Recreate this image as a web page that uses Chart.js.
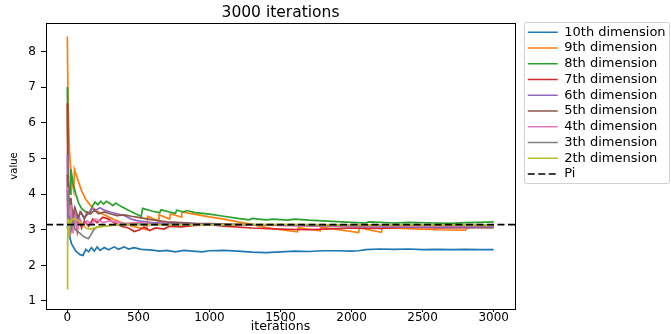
<!DOCTYPE html>
<html><head><meta charset="utf-8">
<script src="https://cdn.jsdelivr.net/npm/chart.js@4/dist/chart.umd.min.js"></script>
<style>html,body{margin:0;padding:0;background:#fff;overflow:hidden}canvas{display:block}</style>
</head><body>
<canvas id="c" width="671" height="334"></canvas>
<script>
const seriesNames = ['10th dimension','9th dimension','8th dimension','7th dimension','6th dimension','5th dimension','4th dimension','3th dimension','2th dimension'];
const seriesColors = ['#1f77b4','#ff7f0e','#2ca02c','#d62728','#9467bd','#8c564b','#e377c2','#7f7f7f','#bcbd22'];

const dim10Iter = [0,10,30,60,90,110,130,150,170,190,210,230,260,290,330,360,400,430,470,520,600,650,700,760,820,880,950,1000,1100,1200,1300,1400,1500,1600,1700,1800,1900,2000,2050,2100,2200,2300,2400,2500,2600,2700,2800,2900,3000];
const dim10Val  = [3.1,2.9,2.6,2.4,2.3,2.28,2.45,2.38,2.5,2.4,2.52,2.42,2.5,2.44,2.52,2.45,2.52,2.46,2.5,2.45,2.43,2.40,2.42,2.38,2.42,2.40,2.38,2.41,2.42,2.40,2.37,2.36,2.38,2.40,2.39,2.41,2.41,2.40,2.41,2.44,2.46,2.45,2.46,2.44,2.45,2.44,2.45,2.44,2.44];

const dim9Iter = [0,5,15,30,45,50,70,100,130,170,210,260,320,380,440,500,560,565,640,645,720,725,800,805,900,1000,1100,1200,1300,1400,1500,1620,1625,1780,1785,2050,2055,2210,2215,2400,2600,2800,2820,3000];
const dim9Val  = [8.43,6.5,5.2,4.4,4.1,4.7,4.45,4.1,3.85,3.65,3.52,3.42,3.3,3.2,3.12,3.06,3.0,3.38,3.25,3.42,3.3,3.45,3.36,3.5,3.43,3.36,3.3,3.22,3.15,3.06,3.0,2.94,3.06,2.97,3.07,2.92,3.05,2.93,3.06,3.03,3.0,2.99,3.07,3.05];

const dim8Iter = [0,3,10,20,25,40,60,80,100,130,160,175,195,215,235,255,275,300,320,340,380,430,480,520,530,600,650,660,720,760,770,820,840,900,1000,1100,1200,1280,1300,1400,1450,1550,1600,1700,1800,2000,2100,2120,2300,2400,2600,2700,2800,2900,3000];
const dim8Val  = [7.0,5.5,4.3,4.0,4.7,4.3,4.0,3.75,3.6,3.5,3.45,3.65,3.78,3.7,3.8,3.72,3.8,3.74,3.68,3.75,3.65,3.55,3.45,3.38,3.6,3.52,3.48,3.56,3.5,3.46,3.55,3.5,3.54,3.48,3.44,3.38,3.32,3.28,3.32,3.28,3.3,3.27,3.3,3.27,3.25,3.21,3.19,3.22,3.19,3.21,3.19,3.18,3.2,3.21,3.22];

const dim7Iter = [0,3,8,15,25,40,55,70,85,100,120,150,180,210,250,290,330,380,430,470,510,540,580,620,680,720,800,900,1000,1100,1300,1500,1700,1800,2000,2200,2400,2600,2800,3000];
const dim7Val  = [6.55,4.5,3.5,3.0,3.6,3.1,3.4,2.95,3.3,3.05,3.25,3.1,3.3,3.2,3.35,3.3,3.2,3.1,3.05,2.95,3.0,3.08,2.98,3.05,3.02,3.1,3.08,3.12,3.14,3.1,3.05,3.02,3.0,3.02,3.05,3.04,3.07,3.05,3.06,3.07];

const dim6Iter = [0,3,10,20,35,50,70,90,120,150,170,200,230,260,300,350,400,450,500,600,700,800,1000,1200,1400,1600,1800,2000,2200,2500,3000];
const dim6Val  = [5.1,4.0,3.4,3.9,3.3,3.6,3.2,3.5,3.35,3.45,3.6,3.55,3.62,3.55,3.5,3.45,3.4,3.3,3.25,3.2,3.18,3.16,3.15,3.14,3.13,3.12,3.1,3.09,3.08,3.07,3.06];

const dim5Iter = [0,3,8,15,25,40,55,75,95,120,140,165,190,220,260,300,350,400,450,500,600,700,800,900,1000,1300,1600,2000,2500,3000];
const dim5Val  = [4.55,3.6,4.2,3.4,3.9,3.3,3.6,3.35,3.5,3.3,3.5,3.45,3.55,3.45,3.5,3.45,3.4,3.42,3.38,3.35,3.28,3.22,3.2,3.18,3.17,3.14,3.12,3.1,3.1,3.09];

const dim4Iter = [0,3,8,15,25,40,55,70,90,110,140,170,200,250,300,400,500,700,1000,1500,2000,2500,3000];
const dim4Val  = [4.2,3.0,3.8,3.1,3.7,2.9,3.4,3.0,3.3,3.1,3.25,3.15,3.3,3.2,3.25,3.18,3.2,3.15,3.14,3.12,3.11,3.1,3.1];

const dim3Iter = [0,3,8,15,25,40,55,90,110,130,148,165,185,210,300,400,500,700,1000,1500,2000,2500,3000];
const dim3Val  = [3.0,4.1,2.9,3.4,2.95,3.3,3.0,2.9,2.82,2.78,2.75,2.85,3.0,3.08,3.12,3.15,3.16,3.15,3.15,3.14,3.12,3.12,3.11];

const dim2Iter = [0,2,5,10,15,25,40,60,90,130,160,220,300,350,400,600,1000,1500,2000,2500,3000];
const dim2Val  = [1.34,2.6,3.3,2.8,3.1,3.25,3.3,3.3,3.22,3.05,3.02,3.08,3.12,3.14,3.15,3.14,3.14,3.15,3.14,3.14,3.14];

const piIter = [-150, 3150];
const piVal = [Math.PI, Math.PI];

const xTicks = [0,500,1000,1500,2000,2500,3000];
const yTicks = [1,2,3,4,5,6,7,8];

const allIter = [dim10Iter,dim9Iter,dim8Iter,dim7Iter,dim6Iter,dim5Iter,dim4Iter,dim3Iter,dim2Iter];
const allVal = [dim10Val,dim9Val,dim8Val,dim7Val,dim6Val,dim5Val,dim4Val,dim3Val,dim2Val];

const FONT = 'DejaVu Sans';
const LW = 1.7;
const datasets = seriesNames.map((name, i) => ({
  label: name,
  data: allIter[i].map((x, j) => ({x: x, y: allVal[i][j]})),
  borderColor: seriesColors[i],
  backgroundColor: seriesColors[i],
  borderWidth: LW,
  pointRadius: 0,
  tension: 0,
  order: 20 - i
}));
datasets.push({
  label: 'Pi',
  data: piIter.map((x, j) => ({x: x, y: piVal[j]})),
  borderColor: '#000',
  backgroundColor: '#000',
  borderWidth: LW,
  borderDash: [7, 3.5],
  pointRadius: 0,
  order: 0
});

const mctx = document.createElement('canvas').getContext('2d');
mctx.font = '13px "' + FONT + '"';
const labelsAll = seriesNames.concat(['Pi']);
const tw = Math.max(...labelsAll.map(t => mctx.measureText(t).width));
const LEG_PAD = 2.75, LEG_BOX = 30;
const legendW = LEG_PAD + LEG_BOX + 6.5 + tw + 10;
const padRight = 671 - 515 - 10 - legendW;

const framePlugin = {
  id: 'frame',
  beforeDraw(chart) {
    const lg = chart.legend;
    const ctx = chart.ctx;
    ctx.save();
    const x = lg.left - 0.5, y = lg.top - 0.5, w = 145, h = 161;
    ctx.beginPath();
    if (ctx.roundRect) ctx.roundRect(x, y, w, h, 2); else ctx.rect(x, y, w, h);
    ctx.fillStyle = '#fff';
    ctx.fill();
    ctx.strokeStyle = '#d0d0d0';
    ctx.lineWidth = 1;
    ctx.stroke();
    ctx.restore();
  },
  afterDatasetsDraw(chart) {
    const a = chart.chartArea, ctx = chart.ctx;
    ctx.save();
    ctx.strokeStyle = '#000';
    ctx.lineWidth = 1;
    ctx.strokeRect(a.left + 0.5, a.top + 0.5, a.right - a.left, a.bottom - a.top);
    ctx.restore();
  }
};

new Chart(document.getElementById('c'), {
  type: 'line',
  data: { datasets: datasets },
  plugins: [framePlugin],
  options: {
    responsive: false,
    animation: false,
    events: [],
    devicePixelRatio: 1,
    layout: { padding: { left: 0, right: padRight, top: 0, bottom: 0 } },
    plugins: {
      tooltip: { enabled: false },
      title: {
        display: true, text: '3000 iterations', fullSize: false, color: '#000',
        font: { family: FONT, size: 15.5, weight: 'normal', lineHeight: 1.2 },
        padding: { top: 3.4, bottom: 1 }
      },
      legend: {
        position: 'right', align: 'start', fullSize: false, maxWidth: 400,
        labels: {
          usePointStyle: true, pointStyle: 'line', pointStyleWidth: LEG_BOX,
          padding: LEG_PAD, color: '#000',
          font: { family: FONT, size: 13 },
          sort: (a, b) => a.datasetIndex - b.datasetIndex,
          generateLabels: chart => Chart.defaults.plugins.legend.labels.generateLabels(chart).map(item => {
            const ds = chart.data.datasets[item.datasetIndex];
            item.lineDash = ds.borderDash || [];
            item.lineWidth = ds.borderWidth;
            item.strokeStyle = ds.borderColor;
            item.fillStyle = ds.borderColor;
            return item;
          })
        }
      }
    },
    scales: {
      x: {
        type: 'linear', min: -150, max: 3150,
        afterBuildTicks: s => { s.ticks = xTicks.map(v => ({ value: v })); },
        afterFit: s => { s.height = 25; },
        grid: { drawOnChartArea: false, drawTicks: true, tickLength: 3, color: '#000' },
        border: { display: false },
        ticks: { font: { family: FONT, size: 12 }, color: '#000', padding: -1, maxRotation: 0, autoSkip: false, callback: v => String(v) },
        title: { display: true, text: 'iterations', color: '#000', font: { family: FONT, size: 12.5 }, padding: { top: 0, bottom: 0 } }
      },
      y: {
        type: 'linear', min: 0.775, max: 8.806,
        afterBuildTicks: s => { s.ticks = yTicks.map(v => ({ value: v })); },
        afterFit: s => { s.width = 46; },
        grid: { drawOnChartArea: false, drawTicks: true, tickLength: 5, color: '#000' },
        border: { display: false },
        ticks: { font: { family: FONT, size: 12 }, color: '#000', padding: 5, autoSkip: false, callback: v => String(v) },
        title: { display: true, text: 'value', color: '#000', font: { family: FONT, size: 10 }, padding: { top: 8, bottom: 0 } }
      },
      yR: {
        type: 'linear', position: 'right', display: true,
        grid: { display: false }, border: { display: false }, ticks: { display: false },
        afterFit: s => { s.width = 10; }
      }
    }
  }
});
</script>
</body></html>
